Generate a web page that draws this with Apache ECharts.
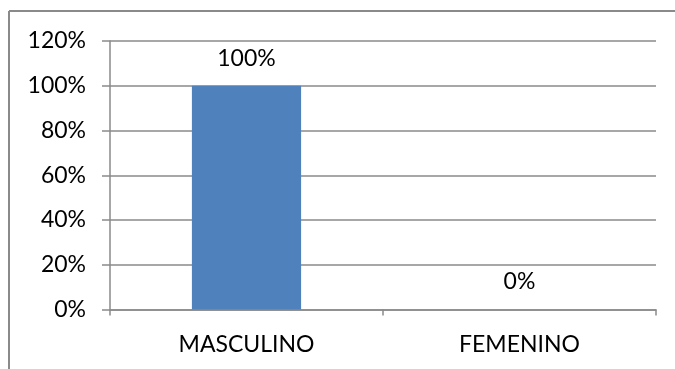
<!DOCTYPE html>
<html>
<head>
<meta charset="utf-8">
<script src="https://cdn.jsdelivr.net/npm/echarts@6/dist/echarts.min.js"></script>
<style>
  html, body { margin: 0; padding: 0; background: #ffffff; }
  #chart { width: 675px; height: 369px; }
</style>
</head>
<body>
<div id="chart"></div>
<script>
// Gender distribution, shares as fractions of 1
var categories = ['MASCULINO', 'FEMENINO'];
var shares = [1.0, 0.0];
var yTicks = { min: 0, max: 1.2, step: 0.2 };

var lineColor = '#8a8a8a';
var fontFamily = 'Lato, "Open Sans", sans-serif';

function pct(v) { return Math.round(v * 100) + '%'; }

var chart = echarts.init(document.getElementById('chart'), null, { renderer: 'canvas' });
chart.setOption({
  backgroundColor: '#ffffff',
  animation: false,
  textStyle: { fontFamily: fontFamily },
  grid: { left: 110, right: 19, top: 41, bottom: 59.5 },
  graphic: [
    // outer chart frame (top and left edges)
    { type: 'line', shape: { x1: 9, y1: 11, x2: 675, y2: 11 }, style: { stroke: lineColor, lineWidth: 2 } },
    { type: 'line', shape: { x1: 9, y1: 11, x2: 9, y2: 369 }, style: { stroke: lineColor, lineWidth: 2 } }
  ],
  xAxis: {
    type: 'category',
    data: categories,
    axisLine: { show: true, lineStyle: { color: lineColor, width: 1.5 } },
    axisTick: { show: true, length: 6, alignWithLabel: false, lineStyle: { color: lineColor, width: 1.5 } },
    axisLabel: { color: '#000000', fontSize: 23, margin: 24, fontFamily: fontFamily },
    splitLine: { show: false }
  },
  yAxis: {
    type: 'value',
    min: yTicks.min,
    max: yTicks.max,
    interval: yTicks.step,
    axisLine: { show: true, lineStyle: { color: lineColor, width: 1.5 } },
    axisTick: { show: true, length: 8, lineStyle: { color: lineColor, width: 1.5 } },
    axisLabel: { color: '#000000', fontSize: 23, margin: 24, formatter: pct, fontFamily: fontFamily },
    splitLine: { show: true, lineStyle: { color: lineColor, width: 1.5 } }
  },
  series: [{
    type: 'bar',
    data: shares,
    barCategoryGap: '60%',
    itemStyle: { color: '#4f81bd' },
    label: {
      show: true,
      position: 'top',
      distance: 16,
      color: '#000000',
      fontSize: 23,
      fontFamily: fontFamily,
      formatter: function (p) { return pct(p.value); }
    }
  }]
});
</script>
</body>
</html>
